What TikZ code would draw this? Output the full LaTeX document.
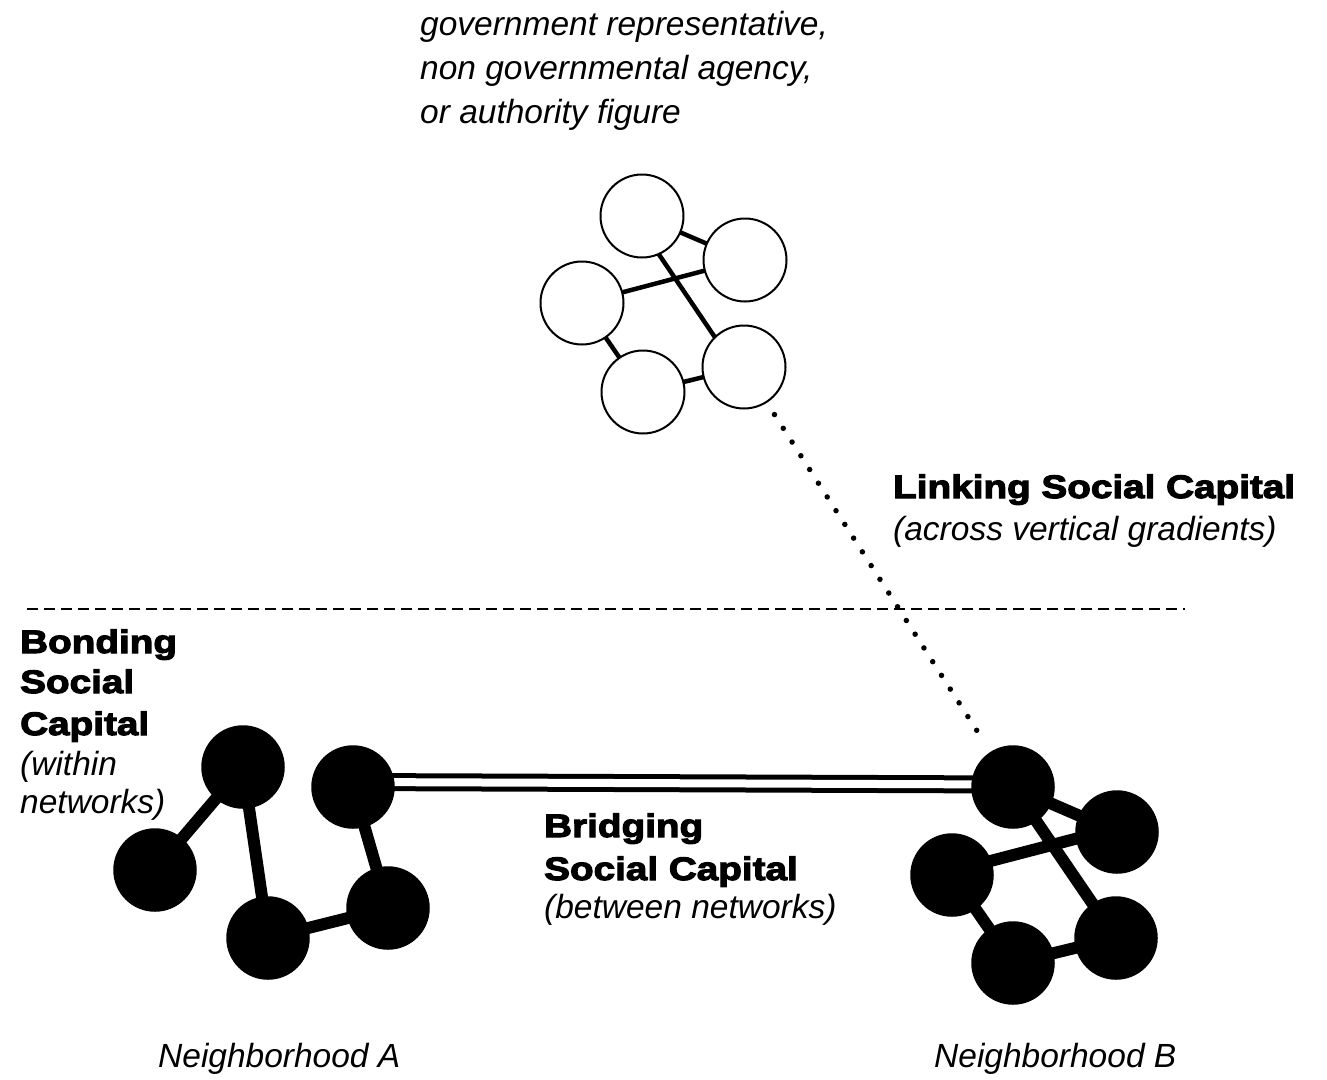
\documentclass[tikz,border=0pt]{standalone}
\usepackage{fontspec}
\setmainfont{Liberation Sans}
\newfontfamily\heavy[FakeStretch=1.19,BoldFeatures={FakeBold=3.5}]{Liberation Sans}
\usetikzlibrary{backgrounds}
\begin{document}
\begin{tikzpicture}[x=1pt,y=-1pt,
  wnode/.style={circle,draw,line width=2pt,fill=white,minimum size=83pt,inner sep=0pt},
  bnode/.style={circle,fill=black,minimum size=83.5pt,inner sep=0pt},
  wlink/.style={line width=4.5pt},
  blink/.style={line width=12pt},
  itlabel/.style={font=\fontsize{33.5}{40}\selectfont\itshape,anchor=base west,inner sep=0pt},
  bdlabel/.style={font=\fontsize{32.5}{40}\selectfont\heavy\bfseries,anchor=base west,inner sep=0pt},
  bridge/.style={line width=5pt,double=white,double distance=8pt},
  dotlink/.style={line width=5.5pt,line cap=round,dash pattern=on 0pt off 16.3pt},
  sepline/.style={line width=1.6pt,dash pattern=on 11pt off 6pt}
]
\useasboundingbox (0,0) rectangle (1327,1079);
\begin{pgfonlayer}{background}
\fill[white] (0,0) rectangle (1327,1079);
\end{pgfonlayer}

% top network
\node[wnode] (T1) at (642,216) {};
\node[wnode] (T2) at (745,260) {};
\node[wnode] (T3) at (582,303) {};
\node[wnode] (T4) at (643,392) {};
\node[wnode] (T5) at (744,367) {};

% neighborhood A
\node[bnode] (A1) at (243,767) {};
\node[bnode] (A2) at (155,870) {};
\node[bnode] (A3) at (268,938) {};
\node[bnode] (A4) at (388,908) {};
\node[bnode] (A5) at (353,787) {};

% neighborhood B
\node[bnode] (B1) at (1013,787) {};
\node[bnode] (B2) at (1117,832) {};
\node[bnode] (B3) at (952,875) {};
\node[bnode] (B4) at (1013,963) {};
\node[bnode] (B5) at (1116,938) {};

\begin{pgfonlayer}{background}
\draw[wlink] (T1.center) -- (T2.center);
\draw[wlink] (T3.center) -- (T2.center);
\draw[wlink] ([xshift=-9pt]T1.center) -- ([xshift=-9pt]T5.center);
\draw[wlink] (T3.center) -- (T4.center);
\draw[wlink] (T4.center) -- (T5.center);

\draw[blink] (A2.center) -- (A1.center);
\draw[blink] (A1.center) -- (A3.center);
\draw[blink] (A3.center) -- (A4.center);
\draw[blink] (A4.center) -- (A5.center);

\draw[blink] (B1.center) -- (B2.center);
\draw[blink] ([yshift=4pt]B3.center) -- ([yshift=4pt]B2.center);
\draw[blink] (B1.center) -- (B5.center);
\draw[blink] (B3.center) -- (B4.center);
\draw[blink] (B4.center) -- (B5.center);

\draw[bridge] ([yshift=5pt]A5.center) -- ([yshift=2.5pt]B1.center);
\end{pgfonlayer}

\draw[dotlink,shorten <=14pt,shorten >=12pt] (T5) -- (B1);

\coordinate (sepL) at (27,609);
\coordinate (sepR) at (1185,609);
\draw[sepline] (sepL) -- (sepR);

% texts
\node[itlabel] (g1) at (420,35) {government representative,};
\node[itlabel] (g2) at (420,79) {non governmental agency,};
\node[itlabel] (g3) at (420,123) {or authority figure};

\node[bdlabel] (l1) at (893,498) {Linking Social Capital};
\node[itlabel] (l2) at (893,540) {(across vertical gradients)};

\node[bdlabel] (bo1) at (20,653) {Bonding};
\node[bdlabel] (bo2) at (20,693) {Social};
\node[bdlabel] (bo3) at (20,735) {Capital};
\node[itlabel] (bo4) at (20,775) {(within};
\node[itlabel] (bo5) at (20,813) {networks)};

\node[bdlabel] (br1) at (544,837) {Bridging};
\node[bdlabel] (br2) at (544,880) {Social Capital};
\node[itlabel] (br3) at (544,918) {(between networks)};

\node[itlabel] (nA) at (158,1067) {Neighborhood A};
\node[itlabel] (nB) at (934,1067) {Neighborhood B};
\end{tikzpicture}
\end{document}
